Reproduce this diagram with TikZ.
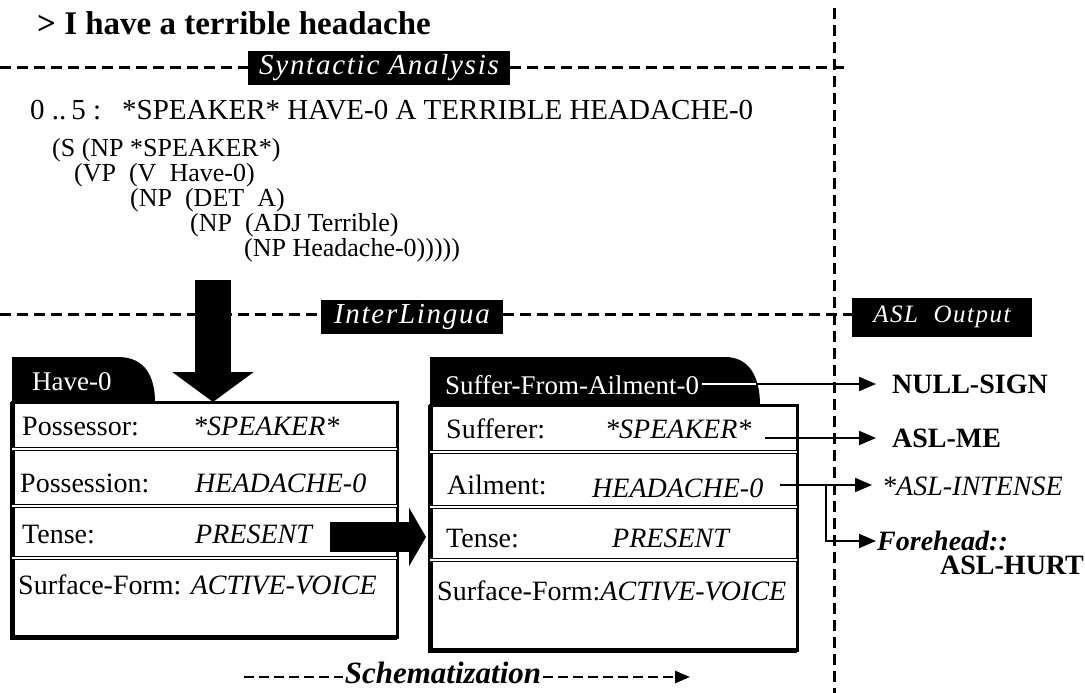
\documentclass[tikz,border=0pt]{standalone}
\usepackage{fontspec}
\setmainfont{Liberation Serif}
\usetikzlibrary{arrows.meta,positioning}

\begin{document}
\begin{tikzpicture}[x=1pt,y=-1pt,
  seclbl/.style={fill=black,text=white,inner sep=0pt,
    font=\fontsize{#1}{#1}\selectfont\itshape\addfontfeature{LetterSpace=6}},
  sepline/.style={line width=3pt,dash pattern=on 11pt off 6pt},
  plain/.style={font=\fontsize{29}{31}\selectfont,anchor=base west,inner sep=0pt},
  tree/.style={font=\fontsize{26}{28}\selectfont,anchor=base west,inner sep=0pt},
  slot/.style={font=\fontsize{28}{30}\selectfont,anchor=base west,inner sep=0pt},
  filler/.style={slot,font=\fontsize{28}{30}\selectfont\itshape},
  tabtext/.style={text=white,font=\fontsize{27}{29}\selectfont,anchor=base west,inner sep=0pt},
  asl/.style={font=\fontsize{28}{30}\selectfont\bfseries,anchor=west,inner sep=0pt},
  aslarrow/.style={line width=2pt,-{Triangle[length=17pt 0 0,width=14pt 0 0]}},
  sepbar/.style={double,double distance=2.5pt,line width=1.2pt}]
\useasboundingbox (0,0) rectangle (1085,693);
% input sentence and parse
\node[font=\fontsize{33}{35}\selectfont\bfseries,anchor=base west,inner sep=0pt] (title) at (37,35) {> I have a terrible headache};
\node[seclbl=29,minimum width=262pt,minimum height=34pt] (synlbl) at (379,68) {Syntactic Analysis};
\draw[sepline] (0,68) -- (synlbl);
\draw[sepline] (synlbl) -- (846,68);
\draw[sepline] (834,8) -- (834,693);
\node[plain] (range) at (30,120) {0 ..\,5 :};
\node[plain] (words) at (122,120) {*SPEAKER* HAVE-0 A TERRIBLE HEADACHE-0};
\node[tree] (s1) at (52,156) {(S (NP *SPEAKER*)};
\node[tree] (s2) at (74,181) {(VP~~(V~~Have-0)};
\node[tree] (s3) at (130,206) {(NP~~(DET~~A)};
\node[tree] (s4) at (190,231) {(NP~~(ADJ Terrible)};
\node[tree] (s5) at (244,256) {(NP Headache-0)))))};
% interlingua
\node[seclbl=29,minimum width=182pt,minimum height=34pt] (ilbl) at (412,317) {InterLingua};
\node[seclbl=25,minimum width=180pt,minimum height=39pt] (asllbl) at (942,317) {ASL~~Output};
\draw[sepline] (0,314) -- (ilbl.west |- 0,314);
\draw[sepline] (ilbl.east |- 0,314) -- (asllbl.west |- 0,314);
% Have-0 frame
\fill (12,402) -- (12,357) -- (118,357) .. controls (146,357) and (155,378) .. (155,402) -- cycle;
\draw[line width=3pt] (12,402) rectangle (397,637);
\draw[line width=5pt] (12,402) |- (397,637);
\foreach \y in {449,506,558}
  \draw[sepbar] (12,\y) -- (397,\y);
\node[tabtext] (have) at (32,390) {Have-0};
\node[slot] (p1) at (22,435) {Possessor:};
\node[filler] (v1) at (193,435) {*SPEAKER*};
\node[slot] (p2) at (20,492) {Possession:};
\node[filler] (v2) at (195,492) {HEADACHE-0};
\node[slot] (p3) at (22,543) {Tense:};
\node[filler] (v3) at (195,543) {PRESENT};
\node[slot] (p4) at (18,594) {Surface-Form: \textit{ACTIVE-VOICE}};
% Suffer-From-Ailment-0 frame
\fill (430,405) -- (430,357) -- (725,357) .. controls (750,357) and (760,378) .. (760,405) -- cycle;
\draw[line width=3pt] (430,405) rectangle (797,650);
\draw[line width=5pt] (430,405) |- (797,650);
\foreach \y in {452,507,560}
  \draw[sepbar] (430,\y) -- (797,\y);
\node[tabtext] (sfa) at (445,394) {Suffer-From-Ailment-0};
\node[slot] (q1) at (446,438) {Sufferer:};
\node[filler] (w1) at (605,438) {*SPEAKER*};
\node[slot] (q2) at (447,494) {Ailment:};
\node[filler] (w2) at (592,497) {HEADACHE-0};
\node[slot] (q3) at (446,547) {Tense:};
\node[filler] (w3) at (612,547) {PRESENT};
\node[slot] (q4) at (437,600) {Surface-Form:\textit{ACTIVE-VOICE}};
% big arrows
\coordinate (treefoot) at (213,280);
\coordinate (havetop) at (213,402);
\draw[line width=36pt,-{Triangle[length=30pt 0 0,width=80pt 0 0]}] (treefoot) -- (havetop);
\coordinate (tenseout) at (330,537);
\coordinate (tensein) at (426,537);
\draw[line width=30pt,-{Triangle[length=17pt 0 0,width=58pt 0 0]}] (tenseout) -- (tensein);
% ASL output
\node[asl] (nullsign) at (892,384) {NULL-SIGN};
\node[asl] (aslme) at (892,438) {ASL-ME};
\node[asl,font=\fontsize{28}{30}\selectfont\itshape] (intense) at (882,486) {*ASL-INTENSE};
\node[asl,font=\fontsize{28}{30}\selectfont\bfseries\itshape] (forehead) at (877,541) {Forehead::};
\node[asl] (hurt) at (940,565) {ASL-HURT};
\coordinate (tabend) at (756,384);
\draw[white,line width=2pt] ([xshift=3pt]sfa.east |- tabend) -- (tabend);
\draw[aslarrow,shorten >=16pt] (tabend) -- (tabend -| nullsign.west);
\coordinate (spkout) at (765,438);
\draw[aslarrow,shorten >=16pt] (spkout) -- (spkout -| aslme.west);
\coordinate (headout) at (780,485);
\draw[aslarrow,shorten >=10pt] (headout) -- (headout -| intense.west);
\coordinate (fork) at (826,485);
\draw[aslarrow,shorten >=1pt] (fork) |- (forehead.west);
% schematization
\node[font=\fontsize{31}{33}\selectfont\bfseries\itshape,inner sep=2pt] (schema) at (443,673) {Schematization};
\coordinate (schemaL) at (244,677);
\coordinate (schemaR) at (690,677);
\draw[line width=2.5pt,dash pattern=on 10pt off 5pt] (schemaL) -- (schema.west |- schemaL);
\draw[line width=2.5pt,dash pattern=on 10pt off 5pt,-{Triangle[length=15pt 0 0,width=12pt 0 0]}] (schema.east |- schemaR) -- (schemaR);
\end{tikzpicture}
\end{document}
